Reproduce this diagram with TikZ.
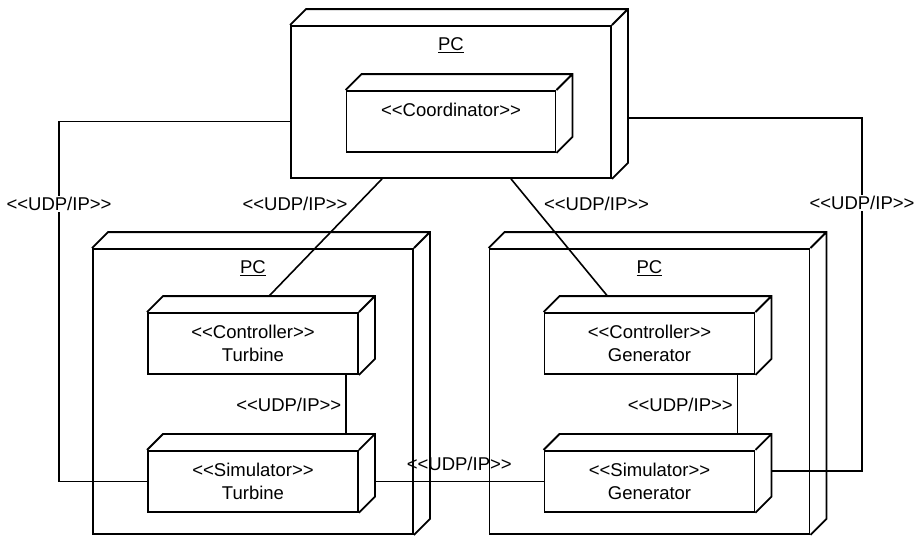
\documentclass[tikz,border=0pt]{standalone}
\usepackage{fontspec}
\setmainfont{Liberation Sans}[Ligatures=TeXOff]
\usepackage{tikz}
\usetikzlibrary{positioning,calc}
\tikzset{
  basic/.style   = {draw, line width=1.8pt, inner sep=0pt, align=center},
  pcnode/.style  = {basic, minimum width=320pt},
  swnode/.style  = {basic, minimum width=210pt, minimum height=61pt},
  pclabel/.style = {inner sep=0pt},
  conn/.style    = {line width=1.6pt},
  udp/.style     = {inner sep=1pt}
}

\begin{document}
\begin{tikzpicture}[x=1pt, y=-1pt, font=\fontsize{18.5}{23}\selectfont]
  \useasboundingbox (0,0) rectangle (919,536);
  % the three computers
  \node[pcnode, minimum height=152pt] (pctop) at (451,102) {};
  \node[pcnode, minimum height=285pt] (pcleft) at (253,391.5) {};
  \node[pcnode, minimum height=285pt] (pcright) at (649.5,391.5) {};
  \foreach \n in {pctop,pcleft,pcright}
    \node[pclabel, below=12pt of \n.north] (\n-name) {\underline{PC}};
  % the software parts, relatively positioned
  \node[swnode, minimum width=209pt, text depth=24pt, below=65pt of pctop.north]
    (coord) {<<Coordinator>>};
  \node[swnode, below=64pt of pcleft.north] (ctrlT) {<<Controller>>\\Turbine};
  \node[swnode, below=75pt of ctrlT] (simT) {<<Simulator>>\\Turbine};
  \node[swnode, below=64pt of pcright.north] (ctrlG) {<<Controller>>\\Generator};
  \node[swnode, below=75pt of ctrlG] (simG) {<<Simulator>>\\Generator};
  % top and side faces of every box
  \foreach \n in {pctop,pcleft,pcright,coord,ctrlT,simT,ctrlG,simG}
    \draw[line width=1.8pt] (\n.north west) -- ++(16pt,16pt)
      -| ([shift={(16pt,16pt)}]\n.south east) -- (\n.south east)
      (\n.north east) -- ++(16pt,16pt);
  % bends of the two outer lines
  \coordinate (lbend) at (59,479);
  \coordinate (rbend) at (862,471);
  % lines between the parts
  \draw[conn] (pctop.west |- coord.west) -| (lbend)
    node[udp, fill=white, pos=0.615] (udp1) {<<UDP/IP>>} |- (simT.west);
  \draw[conn] ([shift={(16pt,-16pt)}]pctop.east) -| (rbend)
    node[udp, fill=white, pos=0.62] (udp2) {<<UDP/IP>>}
    -- ([xshift=16pt]simG.east |- rbend);
  \draw[conn] ([xshift=-69pt]pctop.south) -- ([shift={(16pt,16pt)}]ctrlT.north)
    node[udp, pos=0.21, left=9pt] (udp3) {<<UDP/IP>>};
  \draw[conn] ([xshift=60pt]pctop.south) -- ([shift={(-42pt,16pt)}]ctrlG.north)
    node[udp, pos=0.21, right=11pt] (udp4) {<<UDP/IP>>};
  \draw[conn] ([xshift=93pt]ctrlT.south) -- ([shift={(93pt,16pt)}]simT.north)
    node[udp, midway, left=3pt] (udp5) {<<UDP/IP>>};
  \draw[conn] ([xshift=88pt]ctrlG.south) -- ([shift={(88pt,16pt)}]simG.north)
    node[udp, midway, left=3pt] (udp6) {<<UDP/IP>>};
  \draw[conn] ([xshift=16pt]simT.east) -- (simG.west)
    node[udp, midway, above=9pt] (udp7) {<<UDP/IP>>};
\end{tikzpicture}
\end{document}
